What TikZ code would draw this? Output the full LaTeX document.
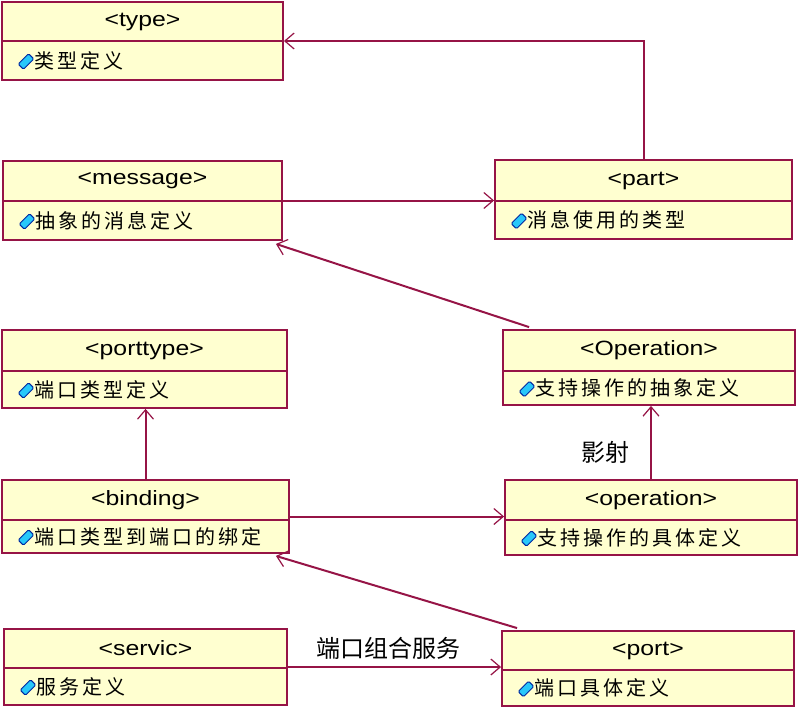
\documentclass[tikz,border=0pt]{standalone}
\usepackage{fontspec}
\setmainfont{Liberation Sans}
\newfontfamily\hdrfont[FakeStretch=1.2]{Liberation Sans}
\newfontfamily\cjkattr[LetterSpace=15]{Noto Sans CJK SC}
\newfontfamily\cjklab{Noto Sans CJK SC}
\usetikzlibrary{arrows.meta,fit,calc}
\definecolor{umlline}{RGB}{150,20,70}
\definecolor{umlfill}{RGB}{255,255,208}
\definecolor{iconfill}{RGB}{40,200,250}
\definecolor{iconline}{RGB}{0,40,160}
\newcommand\umlclass[8]{%
  \node[classbox, fit={(#2,#3) (#4,#5)}] (#1) {};
  \draw[divline] (#2,#6) -- (#4,#6);
  \node[hdrtext] (#1-t) at ({(#2+#4)/2},{(#3+#6)/2}) {#7};
  \node[iconbox] (#1-i) at ({#2+24},{(#6+#5)/2+1}) {};
  \node[attrtext] (#1-a) at ({#2+32},{(#6+#5)/2}) {#8};
}
\begin{document}
\begin{tikzpicture}[x=0.75pt,y=-0.75pt,
  classbox/.style={draw=umlline, fill=umlfill, line width=1.4pt, inner sep=0pt},
  hdrtext/.style={font=\hdrfont\fontsize{15.5}{18}\selectfont, inner sep=0pt},
  attrtext/.style={font=\cjkattr\fontsize{15}{17}\selectfont, anchor=west, inner sep=0pt},
  divline/.style={draw=umlline, line width=1.4pt},
  assoc/.style={draw=umlline, line width=1.5pt, -{Straight Barb[length=7pt,width=12pt,line width=0.9pt]}},
  lbl/.style={font=\cjklab\fontsize{18}{20}\selectfont, inner sep=0pt},
  iconbox/.style={draw=iconline, fill=iconfill, line width=0.7pt, rounded corners=1pt, minimum width=11pt, minimum height=5.5pt, inner sep=0pt, rotate=45}
]
\fill[white] (0,0) rectangle (800,708);
\useasboundingbox (0,0) rectangle (800,708);

\umlclass{type}{2}{2}{283}{80}{41}{<type>}{类型定义}
\umlclass{message}{3}{161}{282}{240}{201}{<message>}{抽象的消息定义}
\umlclass{part}{495}{160}{792}{239}{201}{<part>}{消息使用的类型}
\umlclass{porttype}{2}{330}{287}{408}{371}{<porttype>}{端口类型定义}
\umlclass{Operation}{503}{330}{795}{405}{371}{<Operation>}{支持操作的抽象定义}
\umlclass{binding}{2}{480}{289}{553}{520}{<binding>}{端口类型到端口的绑定}
\umlclass{operation}{505}{480}{797}{555}{520}{<operation>}{支持操作的具体定义}
\umlclass{servic}{4}{629}{287}{705}{668}{<servic>}{服务定义}
\umlclass{port}{502}{631}{794}{706}{670}{<port>}{端口具体定义}

\draw[assoc] (part.north) |- (type.east);
\draw[assoc] (message.east) -- (message.east -| part.west);
\draw[assoc] ($(Operation.north west)+(27,-2)$) -- ($(message.south east)+(-7,3)$);
\draw[assoc] (binding.north) -- (binding.north |- porttype.south);
\draw[assoc] (binding.east) -- (binding.east -| operation.west);
\draw[assoc] (operation.north) -- (operation.north |- Operation.south);
\draw[assoc] ($(port.north west)+(16,-2)$) -- ($(binding.south east)+(-14,2)$);
\draw[assoc] (servic.east) -- (servic.east -| port.west);

\node[lbl] (maplbl) at (605,452) {影射};
\node[lbl] (svclbl) at (388,648) {端口组合服务};
\end{tikzpicture}
\end{document}
